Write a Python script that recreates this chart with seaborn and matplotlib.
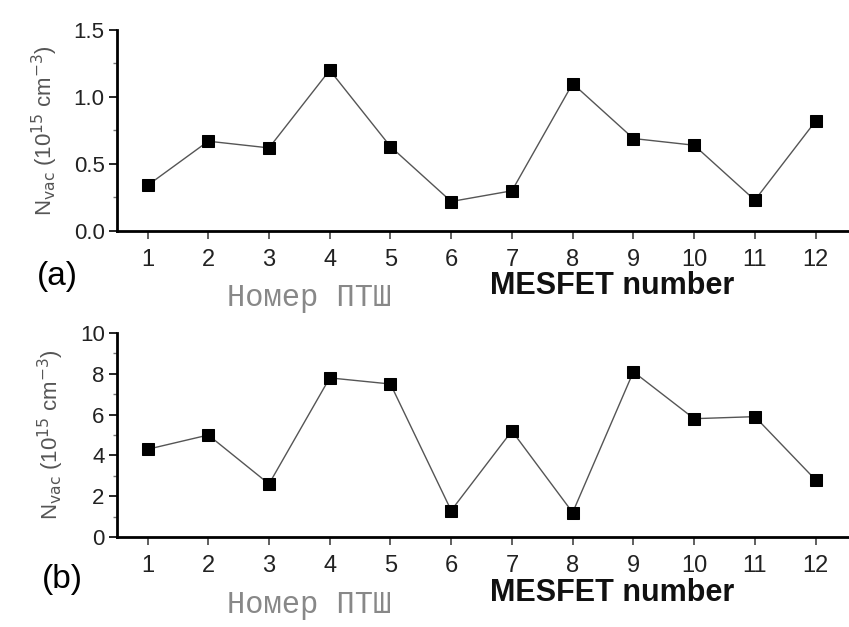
import matplotlib
matplotlib.use("Agg")
import matplotlib.pyplot as plt
import seaborn as sns
import pandas as pd
from matplotlib.ticker import MultipleLocator

mesfet = list(range(1, 13))
nvac_a = [0.34, 0.67, 0.62, 1.20, 0.63, 0.22, 0.30, 1.10, 0.69, 0.64, 0.23, 0.82]
nvac_b = [4.3, 5.0, 2.6, 7.8, 7.5, 1.3, 5.2, 1.2, 8.1, 5.8, 5.9, 2.8]

sns.set_theme(style="ticks")
plt.rcParams['font.family'] = ['Liberation Sans', 'DejaVu Sans']

fig = plt.figure(figsize=(8.49, 6.27), dpi=100)
ax1 = fig.add_axes([0.138, 0.6316, 0.862, 0.3206])
ax2 = fig.add_axes([0.138, 0.1435, 0.862, 0.3254])

dfa = pd.DataFrame({"n": mesfet, "v": nvac_a})
dfb = pd.DataFrame({"n": mesfet, "v": nvac_b})

for ax, df, ylim, major, minor, lab, lpos in [
    (ax1, dfa, (0, 1.5), 0.5, 0.25, "(a)", (-0.082, -0.225)),
    (ax2, dfb, (0, 10), 2, 1, "(b)", (-0.075, -0.21)),
]:
    sns.lineplot(data=df, x="n", y="v", ax=ax, color="#555555", linewidth=1.0,
                 marker="s", markersize=8.5, markerfacecolor="black",
                 markeredgecolor="black")
    ax.set_xlim(0.5, 12.55)
    ax.set_ylim(*ylim)
    ax.set_xticks(mesfet)
    ax.yaxis.set_major_locator(MultipleLocator(major))
    ax.yaxis.set_minor_locator(MultipleLocator(minor))
    if major < 1:
        ax.yaxis.set_major_formatter(matplotlib.ticker.FormatStrFormatter("%.1f"))
    ax.tick_params(axis="both", direction="out", length=6,
                   width=1.2, colors="black")
    ax.tick_params(axis="x", labelsize=17, labelcolor="#222222", pad=7, color="#444444")
    ax.tick_params(axis="y", labelsize=16, labelcolor="#222222", pad=3)
    ax.tick_params(axis="y", which="minor", length=3, width=1.0, color="#777777")
    for s in ["top", "right"]:
        ax.spines[s].set_visible(False)
    for s in ["left", "bottom"]:
        ax.spines[s].set_linewidth(2.0)
        ax.spines[s].set_color("black")
    ax.set_xlabel("")
    ax.set_ylabel(r"N$_{\rm vac}$ (10$^{15}$ cm$^{-3}$)", fontsize=16, color="#555555",
                  labelpad=10)
    ax.text(lpos[0], lpos[1], lab, transform=ax.transAxes, fontsize=24,
            ha="center", va="center", color="black")
    ax.text(0.15, -0.333, "Номер ПТШ", transform=ax.transAxes, fontsize=22,
            family=["Liberation Mono", "DejaVu Sans Mono"], color="#888888",
            ha="left", va="center")
    ax.text(0.51, -0.275, "MESFET number", transform=ax.transAxes, fontsize=22,
            fontweight="bold", color="#111111", ha="left", va="center")

fig.savefig("out.png", dpi=100, facecolor="white")
